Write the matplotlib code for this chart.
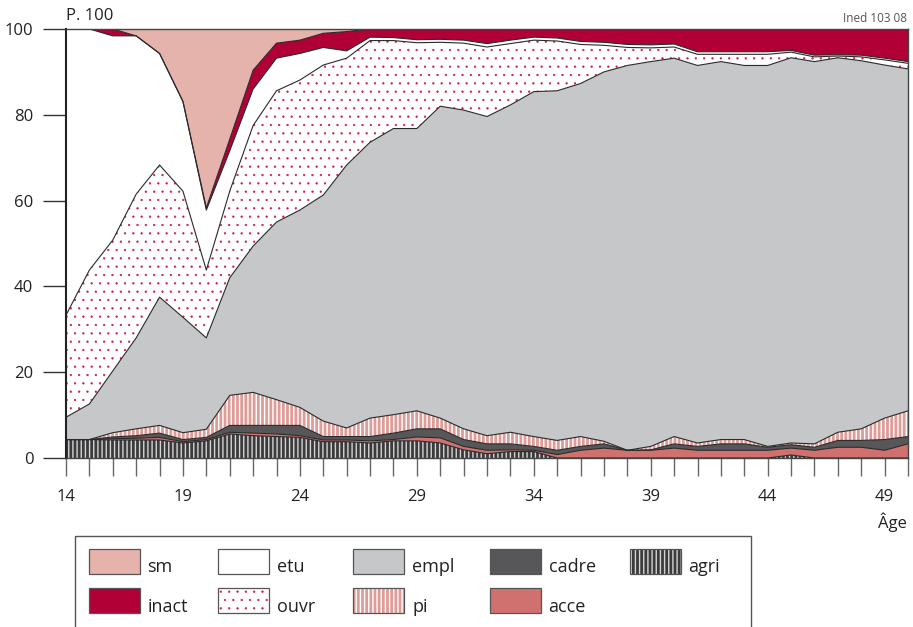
import numpy as np
import matplotlib
matplotlib.use("Agg")
import matplotlib.pyplot as plt
from matplotlib.patches import Rectangle

plt.rcParams['font.family'] = ['Open Sans', 'DejaVu Sans']
plt.rcParams['hatch.linewidth'] = 1.0

# ---------------- data (percent, ages 14..50) ----------------
ages = list(range(14, 51))
agri = [4.3, 4.3, 4.2, 4.2, 4.2, 3.5, 4.0, 5.6, 5.2, 5.0,
        4.8, 3.8, 3.8, 3.5, 4.0, 4.0, 3.5, 1.9, 1.0, 1.5,
        1.5, 0, 0, 0, 0, 0, 0, 0, 0, 0,
        0, 0.7, 0, 0, 0, 0, 0]
acce = [0, 0, 0.3, 0.4, 0.6, 0.3, 0.3, 0.4, 0.6, 0.6,
        0.4, 0.4, 0.4, 0.5, 0.3, 0.9, 1.2, 0.8, 0.8, 0.4,
        0.3, 0.8, 1.8, 2.3, 1.8, 1.8, 2.3, 1.8, 1.8, 1.8,
        1.8, 1.6, 1.8, 2.5, 2.5, 1.8, 3.3]
cadre = [0, 0, 0.4, 0.6, 1.0, 0.5, 0.5, 1.6, 1.8, 2.0,
         2.4, 0.8, 0.8, 1.0, 1.5, 1.9, 2.1, 1.6, 1.5, 1.4,
         0.9, 1.0, 0.9, 1.0, 0, 0.1, 1.0, 0.9, 1.5, 1.5,
         0.7, 0.8, 0.7, 1.6, 1.6, 2.5, 1.7]
pi = [0, 0, 1.0, 1.6, 1.8, 1.6, 1.9, 7.0, 7.7, 6.0,
      4.2, 3.6, 2.0, 4.3, 4.3, 4.2, 2.5, 2.5, 1.9, 2.7,
      2.3, 2.3, 2.3, 0.6, 0, 0.8, 1.7, 0.8, 1.0, 1.0,
      0.2, 0.4, 0.8, 1.9, 2.7, 5.0, 6.0]
empl = [5.2, 8.3, 14.4, 21.2, 29.9, 26.9, 21.3, 27.4, 34.1, 41.4,
        46.0, 52.7, 61.3, 64.3, 66.7, 65.8, 72.7, 74.3, 74.4, 76.3,
        80.4, 81.5, 82.3, 86.1, 89.7, 89.7, 88.2, 88.0, 88.1, 87.2,
        88.8, 89.8, 89.1, 87.3, 85.8, 82.3, 79.7]
ouvr = [23.8, 31.2, 30.5, 33.5, 30.8, 29.4, 15.8, 20.2, 28.1, 30.6,
        30.3, 30.3, 24.9, 23.7, 20.5, 20.0, 14.9, 15.6, 16.2, 14.3,
        12.0, 11.6, 9.1, 6.2, 4.2, 3.2, 2.6, 2.6, 1.7, 2.6,
        2.6, 1.3, 1.1, 0.4, 0.9, 1.2, 1.3]
etu = [66.7, 56.2, 47.6, 36.9, 26.0, 20.9, 14.0, 9.4, 8.5, 7.6,
       6.2, 4.1, 1.7, 0.8, 0.7, 0.7, 0.7, 0.7, 0.8, 0.8,
       0.7, 0.7, 0.7, 0.7, 0.7, 0.7, 0.7, 0.6, 0.6, 0.6,
       0.6, 0.4, 0.4, 0.3, 0.4, 0.4, 0.4]
inact = [0, 0, 1.6, 0, 0, 0, 0.5, 2.7, 4.4, 3.5,
         3.1, 3.3, 4.5, 1.9, 2.0, 2.5, 2.4, 2.6, 3.4, 2.6,
         1.9, 2.1, 2.9, 3.1, 3.6, 3.7, 3.5, 5.3, 5.3, 5.3,
         5.3, 5.0, 6.1, 6.0, 6.1, 6.8, 7.6]
sm = [0, 0, 0, 1.6, 5.7, 16.9, 41.7, 25.7, 9.6, 3.3,
      2.6, 1.0, 0.6, 0, 0, 0, 0, 0, 0, 0,
      0, 0, 0, 0, 0, 0, 0, 0, 0, 0,
      0, 0, 0, 0, 0, 0, 0]

layer_names = ["agri", "acce", "cadre", "pi", "empl", "ouvr", "etu", "inact", "sm"]
layer_values = [agri, acce, cadre, pi, empl, ouvr, etu, inact, sm]
x_labels = [14, 19, 24, 29, 34, 39, 44, 49]

# ---------------- styles ----------------
colors = {"agri": "#3b3b3d", "acce": "#d07170", "cadre": "#575759",
          "pi": "#de9c98", "empl": "#c6c7c9", "ouvr": "#ffffff",
          "etu": "#ffffff", "inact": "#b10035", "sm": "#e6b2ac"}
# (hatch pattern, hatch colour, hatch line width)
hatches = {"agri": ("||||", "#d4d4d4", 1.0), "pi": ("||||", "#ffffff", 1.0),
           "ouvr": ("..", "#cc1a4c", 0.4)}
edge_col = "#2a2a2a"

W, H = 913, 627
fig = plt.figure(figsize=(W / 100, H / 100), dpi=100)
ax = fig.add_axes([66 / W, 1 - 458 / H, (908 - 66) / W, (458 - 29) / H])

x = np.array(ages, dtype=float)
vals = np.array(layer_values, dtype=float)
cum = np.vstack([np.zeros(len(x)), np.cumsum(vals, axis=0)])

for i, name in enumerate(layer_names):
    ax.fill_between(x, cum[i], cum[i + 1], facecolor=colors[name],
                    edgecolor='none', linewidth=0, zorder=1)
    if name in hatches:
        h, hc, hlw = hatches[name]
        with plt.rc_context({'hatch.linewidth': hlw}):
            ax.fill_between(x, cum[i], cum[i + 1], facecolor='none',
                            edgecolor=hc, hatch=h, linewidth=0, zorder=2)
for i in range(1, len(layer_names)):
    ax.plot(x, cum[i], color=edge_col, lw=0.8, zorder=3)

ax.set_xlim(14, 50)
ax.set_ylim(0, 100)
ax.set_xticks(x_labels)
ax.set_xticklabels([str(v) for v in x_labels])
ax.set_xticks(ages, minor=True)
ax.set_yticks([0, 20, 40, 60, 80, 100])
ax.tick_params(axis='x', which='both', direction='out', length=13, width=1.0,
               color='#666666', pad=9.5, labelsize=12, labelcolor='#222222')
ax.tick_params(axis='y', direction='out', length=16.5, width=1.0,
               color='#333333', pad=7, labelsize=12, labelcolor='#222222')
for s in ['top', 'right', 'bottom']:
    ax.spines[s].set_color('#444444')
    ax.spines[s].set_linewidth(1.0)
ax.spines['left'].set_color('#222222')
ax.spines['left'].set_linewidth(1.5)
for sp in ax.spines.values():
    sp.set_zorder(5)

fig.text(66 / W, 1 - 20.5 / H, "P. 100", fontsize=12, ha='left',
         va='baseline', color='#222222')
fig.text(907 / W, 1 - 21.5 / H, "Ined 103 08", fontsize=8.5, ha='right',
         va='baseline', color='#555555')
fig.text(907 / W, 1 - 528 / H, "Âge", fontsize=12, ha='right',
         va='baseline', color='#222222')

# ---------------- legend (drawn in pixel coordinates) ----------------
lax = fig.add_axes([0, 0, 1, 1], zorder=-1)
lax.set_xlim(0, W)
lax.set_ylim(H, 0)
lax.axis('off')
lax.add_patch(Rectangle((74.5, 536), 751 - 74.5, 120, fill=False,
                        edgecolor='#555555', lw=1.0))

col_px = [89, 218, 353, 490, 630]
col_tx = [147.5, 277.5, 412, 548.5, 688.5]
row_py = [548.5, 587.5]
row_base = [572, 612]
legend_items = [("sm", 0, 0), ("inact", 0, 1), ("etu", 1, 0), ("ouvr", 1, 1),
                ("empl", 2, 0), ("pi", 2, 1), ("cadre", 3, 0), ("acce", 3, 1),
                ("agri", 4, 0)]
for name, c, r in legend_items:
    x0, y0 = col_px[c], row_py[r]
    lax.add_patch(Rectangle((x0, y0), 51, 25, facecolor=colors[name],
                            edgecolor='none', lw=0))
    if name in hatches:
        h, hc, hlw = hatches[name]
        with plt.rc_context({'hatch.linewidth': hlw}):
            lax.add_patch(Rectangle((x0, y0), 51, 25, facecolor='none',
                                    edgecolor=hc, hatch=h, lw=0))
    lax.add_patch(Rectangle((x0, y0), 51, 25, fill=False,
                            edgecolor='#555555', lw=0.9))
    lax.text(col_tx[c], row_base[r], name, fontsize=13, va='baseline',
             ha='left', color='#222222')

fig.savefig("out.png", dpi=100)
